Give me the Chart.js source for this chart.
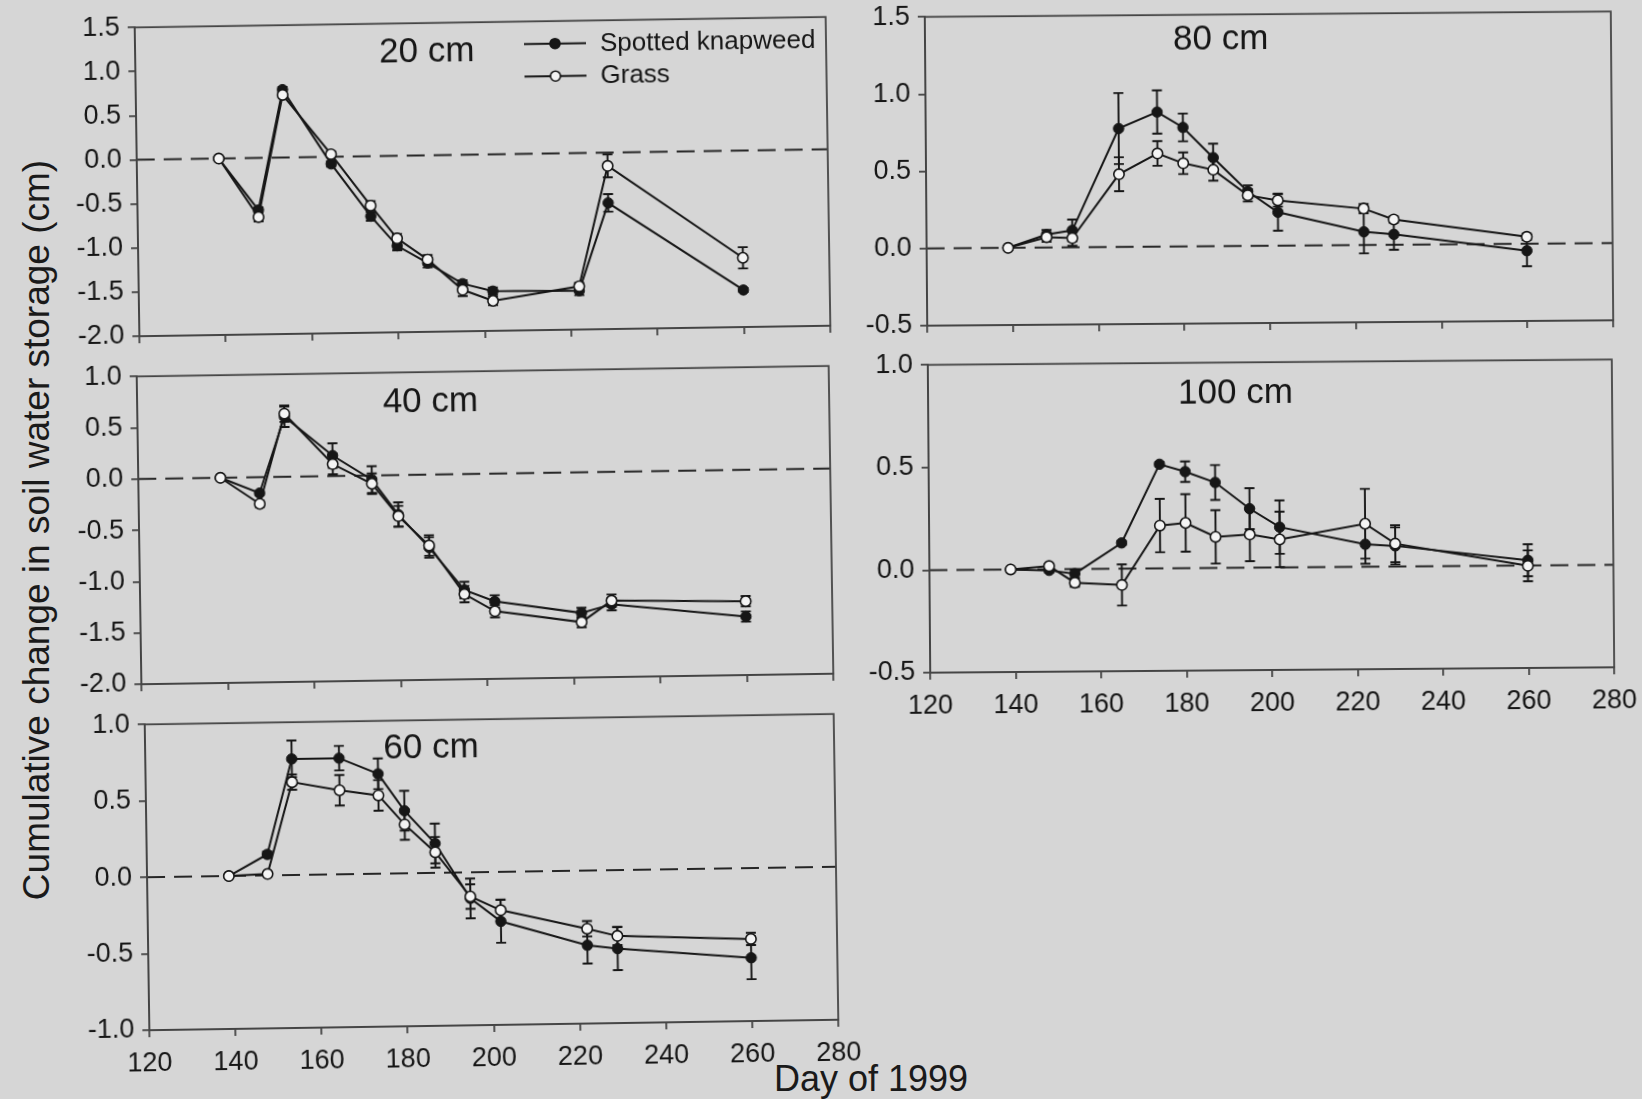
<!DOCTYPE html>
<html><head><meta charset="utf-8">
<script src="https://cdn.jsdelivr.net/npm/chart.js@4.4.1/dist/chart.umd.min.js"></script>
<style>
html,body{margin:0;padding:0;}
body{width:1642px;height:1099px;background:#d6d6d6;position:relative;overflow:hidden;font-family:"Liberation Sans",Arial,sans-serif;color:#1a1a1a;}
.panel{position:absolute;}
.panel canvas{display:block;}
#ytitle{position:absolute;left:37px;top:530px;transform:translate(-50%,-50%) rotate(-90deg);white-space:nowrap;font-size:37px;}
#xtitle{position:absolute;left:871px;top:1079px;transform:translate(-50%,-50%);font-size:36px;white-space:nowrap;}
</style></head><body>
<div id="ytitle">Cumulative change in soil water storage (cm)</div>
<div id="xtitle">Day of 1999</div>
<script>
// ---- data ----
const days = [139, 148, 154, 165, 174, 180, 187, 195, 202, 222, 229, 260];
const xTicks = [120, 140, 160, 180, 200, 220, 240, 260, 280];

const knap20  = [0, -0.59, 0.77, -0.08, -0.68, -1.02, -1.22, -1.46, -1.55, -1.56, -0.57, -1.58];
const knap20E = [0, 0.03, 0.03, 0.03, 0.05, 0.05, 0.05, 0.04, 0.04, 0.05, 0.10, 0.02];
const grass20  = [0, -0.67, 0.71, 0.03, -0.56, -0.935, -1.18, -1.53, -1.66, -1.51, -0.15, -1.215];
const grass20E = [0, 0.05, 0.03, 0.03, 0.05, 0.05, 0.05, 0.07, 0.05, 0.04, 0.13, 0.12];

const knap40  = [0, -0.155, 0.585, 0.20, -0.04, -0.385, -0.71, -1.13, -1.245, -1.37, -1.29, -1.43];
const knap40E = [0, 0.02, 0.10, 0.12, 0.13, 0.12, 0.10, 0.08, 0.06, 0.05, 0.06, 0.05];
const grass40  = [0, -0.26, 0.615, 0.117, -0.08, -0.40, -0.69, -1.17, -1.34, -1.46, -1.255, -1.28];
const grass40E = [0, 0.03, 0.08, 0.10, 0.10, 0.10, 0.10, 0.08, 0.06, 0.05, 0.06, 0.05];

const knap60  = [0, 0.138, 0.76, 0.76, 0.654, 0.41, 0.193, -0.17, -0.323, -0.488, -0.513, -0.586];
const knap60E = [0, 0.02, 0.12, 0.08, 0.10, 0.13, 0.13, 0.13, 0.14, 0.12, 0.14, 0.14];
const grass60  = [0, 0.01, 0.608, 0.55, 0.513, 0.32, 0.135, -0.158, -0.25, -0.38, -0.43, -0.463];
const grass60E = [0, 0.01, 0.05, 0.10, 0.10, 0.10, 0.10, 0.08, 0.07, 0.05, 0.06, 0.04];

const knap80  = [0, 0.084, 0.11, 0.767, 0.872, 0.771, 0.574, 0.353, 0.217, 0.086, 0.068, -0.045];
const knap80E = [0, 0.03, 0.07, 0.23, 0.14, 0.09, 0.09, 0.04, 0.12, 0.14, 0.10, 0.10];
const grass80  = [0, 0.067, 0.06, 0.471, 0.604, 0.539, 0.495, 0.328, 0.294, 0.236, 0.164, 0.045];
const grass80E = [0, 0.03, 0.05, 0.11, 0.08, 0.07, 0.07, 0.04, 0.04, 0.03, 0.02, 0.02];

const knap100  = [0, -0.006, -0.023, 0.125, 0.507, 0.47, 0.416, 0.287, 0.196, 0.109, 0.10, 0.025];
const knap100E = [0, 0.01, 0.02, 0.01, 0.01, 0.05, 0.085, 0.10, 0.13, 0.095, 0.09, 0.078];
const grass100  = [0, 0.015, -0.067, -0.08, 0.208, 0.22, 0.151, 0.161, 0.136, 0.209, 0.111, -0.002];
const grass100E = [0, 0.01, 0.02, 0.10, 0.13, 0.14, 0.13, 0.13, 0.135, 0.17, 0.09, 0.075];

const seriesNames = ['Spotted knapweed', 'Grass'];

// ---- styling ----
const FONT = '"Liberation Sans", Arial, sans-serif';
const INK = '#161616';
const AXIS = '#444444';

const decor = {
  id: 'decor',
  beforeDatasetsDraw(chart, args, o) {
    const {ctx, chartArea: a, scales: {x, y}} = chart;
    ctx.save();
    // dashed zero line
    const y0 = y.getPixelForValue(0);
    ctx.strokeStyle = '#262626'; ctx.lineWidth = 2; ctx.setLineDash([18, 9]);
    ctx.beginPath(); ctx.moveTo(a.left, y0); ctx.lineTo(a.right, y0); ctx.stroke();
    ctx.setLineDash([]);
    // error bars
    ctx.strokeStyle = INK; ctx.lineWidth = 1.9;
    chart.data.datasets.forEach(ds => {
      ds.data.forEach((p, i) => {
        const e = ds.errors[i];
        if (!e) return;
        const px = x.getPixelForValue(p.x);
        const pt = y.getPixelForValue(p.y + e), pb = y.getPixelForValue(p.y - e);
        ctx.beginPath();
        ctx.moveTo(px, pt); ctx.lineTo(px, pb);
        ctx.moveTo(px - 5, pt); ctx.lineTo(px + 5, pt);
        ctx.moveTo(px - 5, pb); ctx.lineTo(px + 5, pb);
        ctx.stroke();
      });
    });
    ctx.restore();
  },
  afterDraw(chart, args, o) {
    const {ctx, chartArea: a} = chart;
    ctx.save();
    // frame
    ctx.strokeStyle = AXIS; ctx.lineWidth = 1.8;
    ctx.strokeRect(a.left, a.top, a.right - a.left, a.bottom - a.top);
    // panel title
    ctx.fillStyle = INK; ctx.font = '35px ' + FONT;
    ctx.textAlign = 'center'; ctx.textBaseline = 'middle';
    ctx.fillText(o.title, a.left + o.tx, a.top + o.ty);
    // legend
    if (o.legend) {
      const lx0 = a.left + 389, lx1 = a.left + 451, mx = a.left + 420, tx = a.left + 465;
      const rows = [a.top + 22.5, a.top + 55];
      ctx.font = '26px ' + FONT; ctx.textAlign = 'left';
      rows.forEach((ry, i) => {
        ctx.strokeStyle = INK; ctx.lineWidth = 2;
        ctx.beginPath(); ctx.moveTo(lx0, ry); ctx.lineTo(lx1, ry); ctx.stroke();
        ctx.beginPath(); ctx.arc(mx, ry, 5, 0, Math.PI * 2);
        ctx.fillStyle = i === 0 ? INK : '#f4f4f4'; ctx.fill();
        ctx.lineWidth = 1.6; ctx.stroke();
        ctx.fillStyle = INK; ctx.fillText(seriesNames[i], tx, ry + 1);
      });
    }
    ctx.restore();
  }
};

function makePanel(c) {
  const YW = 82, PT = 22, XH = 58, PR = 34;
  const W = YW + c.w + PR, H = PT + c.h + XH;
  const div = document.createElement('div');
  div.className = 'panel';
  div.style.left = (c.cx - c.w / 2 - YW) + 'px';
  div.style.top = (c.cy - c.h / 2 - PT) + 'px';
  div.style.width = W + 'px'; div.style.height = H + 'px';
  div.style.transformOrigin = (YW + c.w / 2) + 'px ' + (PT + c.h / 2) + 'px';
  div.style.transform = 'rotate(' + (-c.rot) + 'deg)';
  const cv = document.createElement('canvas');
  cv.width = W; cv.height = H;
  div.appendChild(cv); document.body.appendChild(div);
  const tickFont = {family: FONT, size: 27};
  new Chart(cv, {
    type: 'line',
    data: {datasets: [
      {label: seriesNames[0], data: days.map((d, i) => ({x: d, y: c.k[i]})), errors: c.ke,
       borderColor: INK, backgroundColor: INK, pointBackgroundColor: INK, pointBorderColor: INK,
       pointRadius: 5.2, pointBorderWidth: 1, borderWidth: 2, tension: 0, order: 1},
      {label: seriesNames[1], data: days.map((d, i) => ({x: d, y: c.g[i]})), errors: c.ge,
       borderColor: INK, backgroundColor: '#f4f4f4', pointBackgroundColor: '#f4f4f4', pointBorderColor: INK,
       pointRadius: 5.2, pointBorderWidth: 1.6, borderWidth: 2, tension: 0, order: 0}
    ]},
    options: {
      responsive: false, animation: false, devicePixelRatio: 1,
      layout: {padding: {left: 0, top: PT, right: PR, bottom: 0}},
      plugins: {legend: {display: false}, tooltip: {enabled: false},
        decor: {title: c.title, tx: c.tx, ty: c.ty, legend: !!c.legend}},
      scales: {
        x: {type: 'linear', min: xTicks[0], max: xTicks[xTicks.length - 1],
          afterBuildTicks: s => { s.ticks = xTicks.map(v => ({value: v})); },
          ticks: {display: c.xlabels, autoSkip: false, maxRotation: 0, font: tickFont, color: INK, padding: 10},
          grid: {drawOnChartArea: false, drawTicks: true, tickLength: 7, color: AXIS, lineWidth: 1.8},
          border: {display: true, color: AXIS, width: 1.8},
          afterFit: s => { s.height = XH; }},
        y: {min: c.ymin, max: c.ymax,
          ticks: {stepSize: 0.5, font: tickFont, color: INK, padding: 8,
            callback: v => (Math.abs(v) < 1e-9 ? 0 : v).toFixed(1)},
          grid: {drawOnChartArea: false, drawTicks: true, tickLength: 7, color: AXIS, lineWidth: 1.8},
          border: {display: true, color: AXIS, width: 1.8},
          afterFit: s => { s.width = YW; }}
      }
    },
    plugins: [decor]
  });
}

makePanel({title: '20 cm', k: knap20, ke: knap20E, g: grass20, ge: grass20E, ymin: -2.0, ymax: 1.5,
  cx: 482.7, cy: 175.8, w: 691, h: 311, rot: 0.87, xlabels: false, tx: 291.7, ty: 29, legend: true});
makePanel({title: '40 cm', k: knap40, ke: knap40E, g: grass40, ge: grass40E, ymin: -2.0, ymax: 1.0,
  cx: 485, cy: 524.3, w: 692, h: 310, rot: 0.87, xlabels: false, tx: 293.3, ty: 30});
makePanel({title: '60 cm', k: knap60, ke: knap60E, g: grass60, ge: grass60E, ymin: -1.0, ymax: 1.0,
  cx: 491.5, cy: 871.3, w: 689, h: 308, rot: 0.87, xlabels: true, tx: 286, ty: 28.5});
makePanel({title: '80 cm', k: knap80, ke: knap80E, g: grass80, ge: grass80E, ymin: -0.5, ymax: 1.5,
  cx: 1268.7, cy: 167.3, w: 686, h: 311, rot: 0.45, xlabels: false, tx: 295.7, ty: 25.6});
makePanel({title: '100 cm', k: knap100, ke: knap100E, g: grass100, ge: grass100E, ymin: -0.5, ymax: 1.0,
  cx: 1271, cy: 515.4, w: 684, h: 310, rot: 0.45, xlabels: true, tx: 307.5, ty: 31});
</script>
</body></html>
